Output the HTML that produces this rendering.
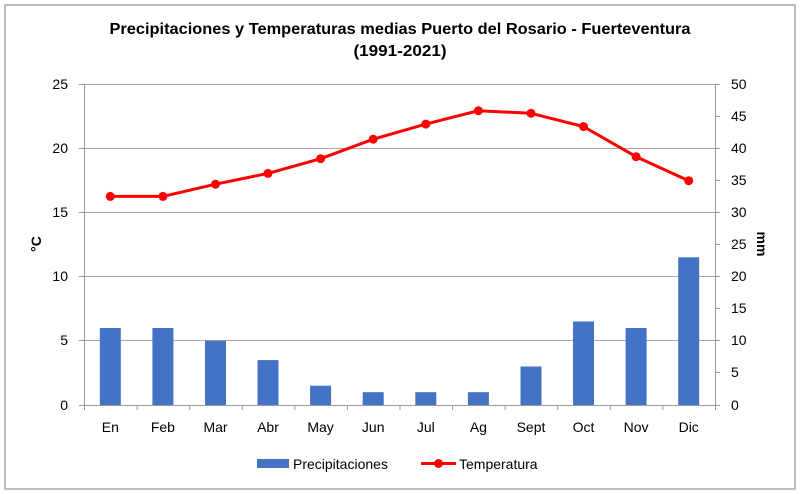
<!DOCTYPE html>
<html><head><meta charset="utf-8"><style>
html,body{margin:0;padding:0;background:#fff;}
svg{display:block;}
text{font-family:"Liberation Sans",sans-serif;fill:#000;}
</style></head><body>
<svg width="800" height="494" viewBox="0 0 800 494" xmlns="http://www.w3.org/2000/svg">
<rect x="0" y="0" width="800" height="494" fill="#fff"/>
<rect x="5" y="5" width="790" height="484" fill="#fff" stroke="#BDBDBD" stroke-width="2"/>
<!-- title -->
<text x="400" y="34" font-size="16" font-weight="bold" text-anchor="middle" textLength="581" lengthAdjust="spacingAndGlyphs">Precipitaciones y Temperaturas medias Puerto del Rosario - Fuerteventura</text>
<text x="400" y="56" font-size="16" font-weight="bold" text-anchor="middle" textLength="93" lengthAdjust="spacingAndGlyphs">(1991-2021)</text>
<!-- gridlines -->
<g stroke="#A6A6A6" stroke-width="1">
<line x1="84" y1="84.5" x2="715" y2="84.5"/>
<line x1="84" y1="148.5" x2="715" y2="148.5"/>
<line x1="84" y1="212.5" x2="715" y2="212.5"/>
<line x1="84" y1="276.5" x2="715" y2="276.5"/>
<line x1="84" y1="340.5" x2="715" y2="340.5"/>
</g>
<!-- bars -->
<g fill="#4472C4">
<rect x="99.8" y="328" width="21" height="77"/>
<rect x="152.4" y="328" width="21" height="77"/>
<rect x="205" y="340.8" width="21" height="64.2"/>
<rect x="257.5" y="360.1" width="21" height="44.9"/>
<rect x="310.1" y="385.7" width="21" height="19.3"/>
<rect x="362.7" y="392.2" width="21" height="12.8"/>
<rect x="415.3" y="392.2" width="21" height="12.8"/>
<rect x="467.9" y="392.2" width="21" height="12.8"/>
<rect x="520.5" y="366.5" width="21" height="38.5"/>
<rect x="573" y="321.5" width="21" height="83.5"/>
<rect x="625.6" y="328" width="21" height="77"/>
<rect x="678.2" y="257.3" width="21" height="147.7"/>
</g>
<!-- axes -->
<g stroke="#9A9A9A" stroke-width="1">
<line x1="84.5" y1="84" x2="84.5" y2="405"/>
<line x1="715.5" y1="84" x2="715.5" y2="405"/>
<line x1="84" y1="405.5" x2="715" y2="405.5"/>
<!-- left ticks -->
<line x1="79" y1="84.5" x2="84" y2="84.5"/>
<line x1="79" y1="148.5" x2="84" y2="148.5"/>
<line x1="79" y1="212.5" x2="84" y2="212.5"/>
<line x1="79" y1="276.5" x2="84" y2="276.5"/>
<line x1="79" y1="340.5" x2="84" y2="340.5"/>
<line x1="79" y1="405.5" x2="84" y2="405.5"/>
<!-- right ticks -->
<line x1="715" y1="84.5" x2="720" y2="84.5"/>
<line x1="715" y1="116.5" x2="720" y2="116.5"/>
<line x1="715" y1="148.5" x2="720" y2="148.5"/>
<line x1="715" y1="180.5" x2="720" y2="180.5"/>
<line x1="715" y1="212.5" x2="720" y2="212.5"/>
<line x1="715" y1="244.5" x2="720" y2="244.5"/>
<line x1="715" y1="276.5" x2="720" y2="276.5"/>
<line x1="715" y1="308.5" x2="720" y2="308.5"/>
<line x1="715" y1="340.5" x2="720" y2="340.5"/>
<line x1="715" y1="372.5" x2="720" y2="372.5"/>
<line x1="715" y1="405.5" x2="720" y2="405.5"/>
<!-- x ticks -->
<line x1="84.5" y1="405" x2="84.5" y2="410"/>
<line x1="137.1" y1="405" x2="137.1" y2="410"/>
<line x1="189.7" y1="405" x2="189.7" y2="410"/>
<line x1="242.3" y1="405" x2="242.3" y2="410"/>
<line x1="294.8" y1="405" x2="294.8" y2="410"/>
<line x1="347.4" y1="405" x2="347.4" y2="410"/>
<line x1="400" y1="405" x2="400" y2="410"/>
<line x1="452.6" y1="405" x2="452.6" y2="410"/>
<line x1="505.2" y1="405" x2="505.2" y2="410"/>
<line x1="557.7" y1="405" x2="557.7" y2="410"/>
<line x1="610.3" y1="405" x2="610.3" y2="410"/>
<line x1="662.9" y1="405" x2="662.9" y2="410"/>
<line x1="715.5" y1="405" x2="715.5" y2="410"/>
</g>
<!-- temperature line -->
<polyline fill="none" stroke="#FF0000" stroke-width="3" stroke-linejoin="round" points="110.3,196.4 162.9,196.4 215.5,184.2 268,173.4 320.6,158.7 373.2,139.2 425.8,124.1 478.4,110.7 531,113.3 583.5,126.6 636.1,156.7 688.7,180.7"/>
<g fill="#FF0000">
<circle cx="110.3" cy="196.4" r="4.5"/>
<circle cx="162.9" cy="196.4" r="4.5"/>
<circle cx="215.5" cy="184.2" r="4.5"/>
<circle cx="268" cy="173.4" r="4.5"/>
<circle cx="320.6" cy="158.7" r="4.5"/>
<circle cx="373.2" cy="139.2" r="4.5"/>
<circle cx="425.8" cy="124.1" r="4.5"/>
<circle cx="478.4" cy="110.7" r="4.5"/>
<circle cx="531" cy="113.3" r="4.5"/>
<circle cx="583.5" cy="126.6" r="4.5"/>
<circle cx="636.1" cy="156.7" r="4.5"/>
<circle cx="688.7" cy="180.7" r="4.5"/>
</g>
<!-- left labels -->
<g font-size="14" text-anchor="end">
<text x="68" y="89">25</text>
<text x="68" y="153">20</text>
<text x="68" y="217">15</text>
<text x="68" y="281">10</text>
<text x="68" y="345">5</text>
<text x="68" y="410">0</text>
</g>
<!-- right labels -->
<g font-size="14" text-anchor="start">
<text x="731" y="89">50</text>
<text x="731" y="121">45</text>
<text x="731" y="153">40</text>
<text x="731" y="185">35</text>
<text x="731" y="217">30</text>
<text x="731" y="249">25</text>
<text x="731" y="281">20</text>
<text x="731" y="313">15</text>
<text x="731" y="345">10</text>
<text x="731" y="377">5</text>
<text x="731" y="410">0</text>
</g>
<!-- x labels -->
<g font-size="14" text-anchor="middle">
<text x="110.3" y="432">En</text>
<text x="162.9" y="432">Feb</text>
<text x="215.5" y="432">Mar</text>
<text x="268" y="432">Abr</text>
<text x="320.6" y="432">May</text>
<text x="373.2" y="432">Jun</text>
<text x="425.8" y="432">Jul</text>
<text x="478.4" y="432">Ag</text>
<text x="531" y="432">Sept</text>
<text x="583.5" y="432">Oct</text>
<text x="636.1" y="432">Nov</text>
<text x="688.7" y="432">Dic</text>
</g>
<!-- axis titles -->
<text x="0" y="0" font-size="14" font-weight="bold" text-anchor="middle" transform="translate(41,244) rotate(-90)">°C</text>
<text x="0" y="0" font-size="14" font-weight="bold" text-anchor="middle" transform="translate(757,244) rotate(90)">mm</text>
<!-- legend -->
<rect x="257" y="459" width="32" height="9" fill="#4472C4"/>
<text x="293" y="469" font-size="14">Precipitaciones</text>
<line x1="421" y1="463.5" x2="456" y2="463.5" stroke="#FF0000" stroke-width="3"/>
<circle cx="438.5" cy="463.5" r="4.5" fill="#FF0000"/>
<text x="459" y="469" font-size="14">Temperatura</text>
</svg>
</body></html>
